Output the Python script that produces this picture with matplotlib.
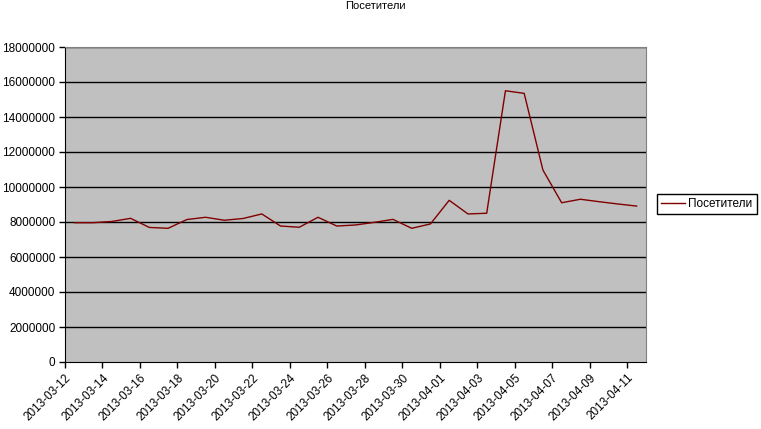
import matplotlib
matplotlib.use("Agg")
import matplotlib.pyplot as plt
import pandas as pd

dates = pd.date_range("2013-03-12", "2013-04-11", freq="D").strftime("%Y-%m-%d").tolist()
visitors = [
    7960000, 7960000, 8030000, 8210000, 7690000, 7640000, 8140000, 8270000,
    8100000, 8200000, 8460000, 7770000, 7700000, 8270000, 7770000, 7830000,
    7980000, 8150000, 7640000, 7890000, 9240000, 8460000, 8500000, 15500000,
    15350000, 10970000, 9100000, 9300000, 9160000, 9030000, 8910000,
]
yticks = list(range(0, 18000001, 2000000))

plt.rcParams["font.family"] = ["Liberation Sans", "DejaVu Sans"]
plt.rcParams["font.size"] = 8.5

fig = plt.figure(figsize=(7.61, 4.29), dpi=100)
ax = fig.add_axes([65 / 761, 67 / 429, 581 / 761, 315 / 429])
ax.set_facecolor("#C0C0C0")

x = list(range(len(dates)))
line, = ax.plot(x, visitors, color="#800000", linewidth=1.0, label="Посетители", zorder=3)

ax.set_ylim(0, 18000000)
ax.set_yticks(yticks)
ax.set_yticklabels([str(v) for v in yticks])
for v in yticks[1:]:
    ax.axhline(v, color="black", linewidth=1.0, zorder=2)

ax.set_xlim(-0.5, len(dates) - 0.5)
tick_pos = [i - 0.5 for i in range(0, len(dates), 2)]
ax.set_xticks(tick_pos)
ax.set_xticklabels(dates[::2], rotation=45, ha="right", va="top", rotation_mode="anchor")

ax.tick_params(axis="both", direction="out", length=4, width=1, color="black", pad=3)
for side in ("top", "right"):
    ax.spines[side].set_color("#808080")
for side in ("left", "bottom"):
    ax.spines[side].set_color("black")

fig.text(375 / 761, 1 - 6 / 429, "Посетители", ha="center", va="center", fontsize=8)

leg = fig.legend(handles=[line], loc="center left", bbox_to_anchor=(657 / 761, 1 - 204 / 429),
                 frameon=True, fancybox=False, edgecolor="black", framealpha=1,
                 handlelength=2.0, borderpad=0.35, handletextpad=0.3, borderaxespad=0)
leg.get_frame().set_linewidth(1.0)

fig.savefig("out.png", dpi=100)
